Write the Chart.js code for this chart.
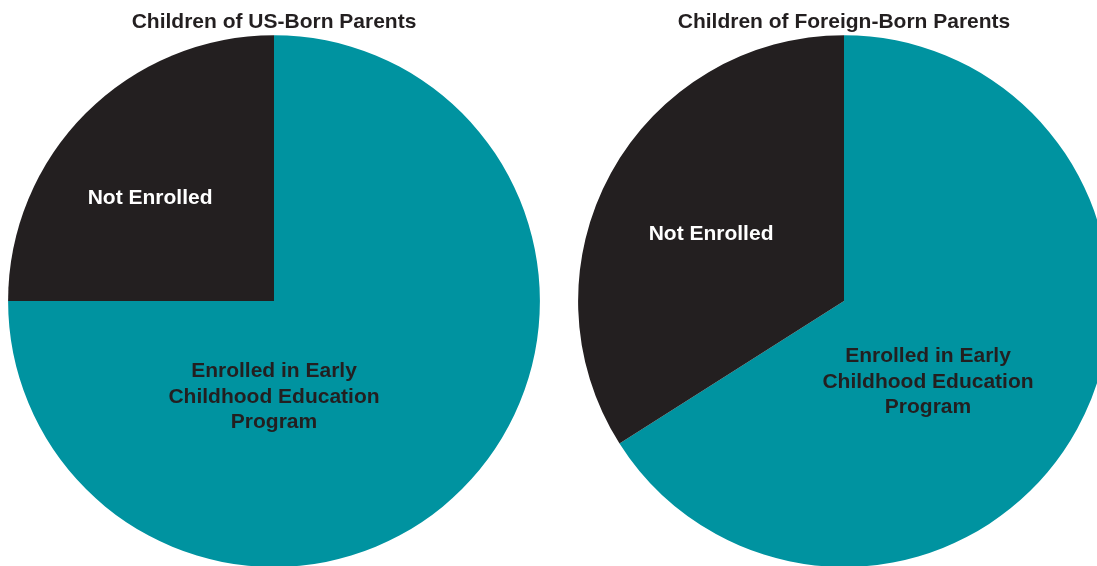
<!DOCTYPE html>
<html>
<head>
<meta charset="utf-8">
<script src="https://cdn.jsdelivr.net/npm/chart.js@4"></script>
<style>
  html, body { margin: 0; padding: 0; background: #fff; overflow: hidden; width: 1097px; height: 566px; }
  canvas { position: absolute; top: 0; }
  #usChart { left: 0; }
  #foreignChart { left: 570px; }
</style>
</head>
<body>
<canvas id="usChart" width="548" height="567"></canvas>
<canvas id="foreignChart" width="548" height="567"></canvas>
<script>
let categories = ['Enrolled in Early Childhood Education Program', 'Not Enrolled'];
let labelLines = [['Enrolled in Early', 'Childhood Education', 'Program'], ['Not Enrolled']];
let usBornValues = [75, 25];
let foreignBornValues = [66, 34];
let titles = ['Children of US-Born Parents', 'Children of Foreign-Born Parents'];
let colors = ['#0093a0', '#231f20'];
let textColors = ['#231f20', '#ffffff'];

// writes the slice names inside the pie, placed relative to centre and radius
let sliceText = {
    id: 'sliceText',
    afterDatasetsDraw(chart, args, opts) {
        let ctx = chart.ctx;
        let arcs = chart.getDatasetMeta(0).data;
        ctx.save();
        ctx.font = 'bold 21px "Liberation Sans", Arial, sans-serif';
        ctx.textAlign = 'center';
        ctx.textBaseline = 'middle';
        arcs.forEach(function (arc, i) {
            let p = opts.spots[i];
            let cx = arc.x + p[0] * arc.outerRadius;
            let cy = arc.y + p[1] * arc.outerRadius;
            let lines = labelLines[i];
            ctx.fillStyle = textColors[i];
            lines.forEach(function (line, j) {
                ctx.fillText(line, cx, cy + (j - (lines.length - 1) / 2) * 25.5);
            });
        });
        ctx.restore();
    }
};

function makePie(id, values, title, spots) {
    return new Chart(document.getElementById(id).getContext('2d'), {
        type: 'pie',
        data: {
            labels: categories,
            datasets: [{
                data: values,
                backgroundColor: colors,
                borderWidth: 0,
                hoverOffset: 0
            }]
        },
        options: {
            responsive: false,
            animation: false,
            layout: { padding: 0 },
            plugins: {
                legend: { display: false },
                tooltip: { enabled: false },
                title: {
                    display: true,
                    text: title,
                    color: '#231f20',
                    font: { family: '"Liberation Sans", Arial, sans-serif', size: 21, weight: 'bold' },
                    padding: { top: 10, bottom: 0 }
                },
                sliceText: { spots: spots }
            }
        },
        plugins: [sliceText]
    });
}

makePie('usChart', usBornValues, titles[0], [[0, 0.36], [-0.466, -0.388]]);
makePie('foreignChart', foreignBornValues, titles[1], [[0.316, 0.304], [-0.5, -0.253]]);
</script>
</body>
</html>
